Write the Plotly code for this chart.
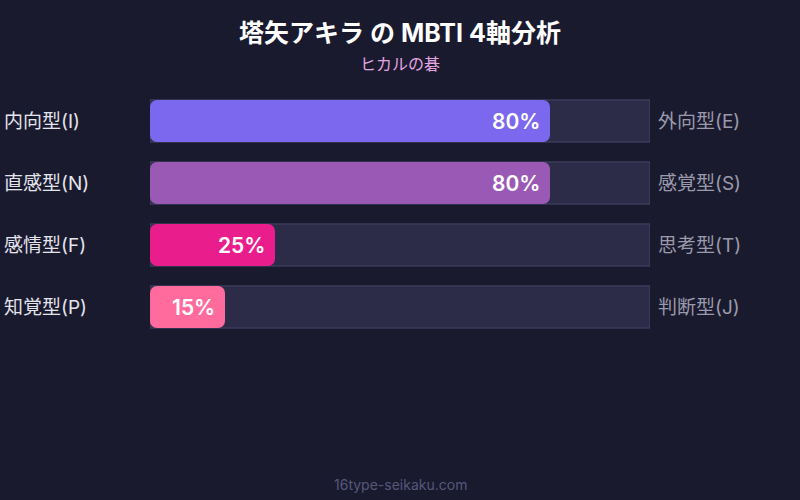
import plotly.graph_objects as go

# 4 axes, left pole / right pole and score toward the left pole
left_labels = ["内向型(I)", "直感型(N)", "感情型(F)", "知覚型(P)"]
right_labels = ["外向型(E)", "感覚型(S)", "思考型(T)", "判断型(J)"]
scores = [80, 80, 25, 15]
bar_colors = ["#7B68EE", "#9B59B6", "#E91E8C", "#FF6B9D"]
full = [100, 100, 100, 100]

rows = list(range(len(scores)))
font = "Inter, Noto Sans CJK JP, sans-serif"

# plot area spans pixel rows 90..338
def py(pix):
    return (338 - pix) / 248

fig = go.Figure()

# background track
fig.add_trace(go.Bar(
    x=full, y=rows, orientation="h", width=0.68, offset=-0.34,
    marker=dict(color="#2c2b48", line=dict(color="#46466a", width=1), cornerradius=0),
    hoverinfo="skip",
))

# score bars; explicit base makes plotly round both ends
fig.add_trace(go.Bar(
    x=scores, base=[0] * len(scores), y=rows, orientation="h", width=0.68, offset=-0.34,
    marker=dict(color=bar_colors, line=dict(width=0), cornerradius=7),
    hoverinfo="skip",
))

for i, v in enumerate(scores):
    fig.add_annotation(x=v, y=i, xref="x", yref="y", text=f"{v}%",
                       showarrow=False, xanchor="right", xshift=-8,
                       font=dict(family=font, size=21, color="white", weight=600))
    fig.add_annotation(x=-0.296, y=i, xref="paper", yref="y", text=left_labels[i],
                       showarrow=False, xanchor="left",
                       font=dict(family=font, size=19, color="#e4e4ec"))
    fig.add_annotation(x=1.012, y=i, xref="paper", yref="y", text=right_labels[i],
                       showarrow=False, xanchor="left",
                       font=dict(family=font, size=19, color="#9a9aac"))

fig.add_annotation(x=0.5, y=py(64), xref="paper", yref="paper",
                   text="ヒカルの碁", showarrow=False, yanchor="middle",
                   font=dict(family=font, size=16, color="#e2a6e2"))
fig.add_annotation(x=0.5, y=py(484), xref="paper", yref="paper",
                   text="16type-seikaku.com", showarrow=False, yanchor="middle",
                   font=dict(family=font, size=14, color="#55587a"))

fig.update_layout(
    width=800, height=500,
    margin=dict(l=150, r=150, t=90, b=162),
    paper_bgcolor="#1a1a2e", plot_bgcolor="#1a1a2e",
    barmode="group",
    title=dict(text="<b>塔矢アキラ の MBTI 4軸分析</b>", x=0.5, xanchor="center",
               y=1 - 33 / 500, yanchor="middle", yref="container",
               font=dict(family=font, size=25, color="white")),
    xaxis=dict(range=[0, 100], visible=False, fixedrange=True),
    yaxis=dict(range=[3.5, -0.5], visible=False, fixedrange=True),
    showlegend=False,
)

fig.write_html("out.html", config={"displayModeBar": False},
               post_script="document.body.style.margin='0';")
